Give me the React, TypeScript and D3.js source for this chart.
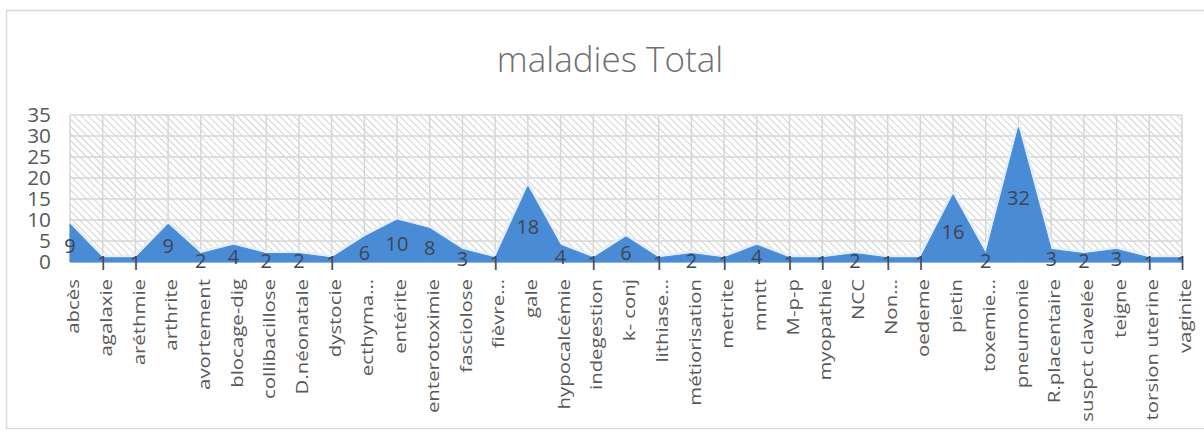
import React from "react";
import * as d3 from "d3";

// Disease counts per category
const categories: string[] = [
  "abcès", "agalaxie", "aréthmie", "arthrite", "avortement", "blocage-dig",
  "collibacillose", "D.néonatale", "dystocie", "ecthyma…", "entérite",
  "enterotoximie", "fasciolose", "fièvre…", "gale", "hypocalcémie",
  "indegestion", "k- conj", "lithiase…", "métiorisation", "metrite", "mmtt",
  "M-p-p", "myopathie", "NCC", "Non…", "oedeme", "pietin", "toxemie…",
  "pneumonie", "R.placentaire", "suspct clavelée", "teigne",
  "torsion uterine", "vaginite",
];

const totals: number[] = [
  9, 1, 1, 9, 2, 4, 2, 2, 1, 6, 10, 8, 3, 1, 18, 4, 1, 6, 1, 2, 1, 4, 1, 1,
  2, 1, 1, 16, 2, 32, 3, 2, 3, 1, 1,
];

const yTicks: number[] = [0, 5, 10, 15, 20, 25, 30, 35];

const title = "maladies Total";

const W = 1204;
const H = 438;
const plot = { left: 70, right: 1182, top: 115, bottom: 262 };
const FONT = "'Open Sans', 'Noto Sans', sans-serif";

export default function App() {
  const x = d3
    .scalePoint<string>()
    .domain(categories)
    .range([plot.left, plot.right]);
  const y = d3.scaleLinear().domain([0, 35]).range([plot.bottom, plot.top]);

  const data = categories.map((c, i) => ({ c, v: totals[i] }));

  const area = d3
    .area<{ c: string; v: number }>()
    .x((d) => x(d.c)!)
    .y0(y(0))
    .y1((d) => y(d.v));
  const topLine = d3
    .line<{ c: string; v: number }>()
    .x((d) => x(d.c)!)
    .y((d) => y(d.v));

  return (
    <svg
      width={W}
      height={H}
      style={{ position: "absolute", left: 0, top: 0, background: "#fff" }}
    >
      <defs>
        <pattern
          id="hatch"
          width={5}
          height={5}
          patternUnits="userSpaceOnUse"
          patternTransform="rotate(-45)"
        >
          <rect width={5} height={5} fill="#ffffff" />
          <line x1={0} y1={0} x2={0} y2={5} stroke="#d2d2d2" strokeWidth={2} />
        </pattern>
        <filter id="soft" x="-5%" y="-5%" width="110%" height="110%">
          <feGaussianBlur stdDeviation={0.6} />
        </filter>
      </defs>

      {/* chart frame */}
      <rect
        x={6.5}
        y={10.5}
        width={W + 10}
        height={418}
        fill="#fff"
        stroke="#d9d9d9"
        strokeWidth={1.5}
      />

      <text
        x={610}
        y={72}
        textAnchor="middle"
        fontFamily={FONT}
        fontSize={35}
        fontWeight={300}
        fill="#707070"
      >
        {title}
      </text>

      {/* plot background and grid */}
      <rect
        x={plot.left}
        y={plot.top}
        width={plot.right - plot.left}
        height={plot.bottom - plot.top}
        fill="url(#hatch)"
      />
      <g stroke="#d6d6d6" strokeWidth={1.5}>
        {yTicks.map((t) => (
          <line key={t} x1={plot.left} x2={plot.right} y1={y(t)} y2={y(t)} />
        ))}
        {categories.map((c) => (
          <line key={c} x1={x(c)} x2={x(c)} y1={plot.top} y2={plot.bottom} />
        ))}
      </g>

      {/* y axis labels */}
      <g fontFamily={FONT} fontSize={16} fill="#595959" textAnchor="end">
        {yTicks.map((t) => (
          <text
            key={t}
            transform={`translate(51,${y(t)}) scale(1.3,1.28)`}
            dy="0.36em"
          >
            {t}
          </text>
        ))}
      </g>

      {/* area series */}
      <path
        d={topLine(data)!}
        fill="none"
        stroke="#e4eefa"
        strokeWidth={6}
        strokeLinejoin="round"
        filter="url(#soft)"
      />
      <path d={area(data)!} fill="#4a8bd5" stroke="#4a8bd5" strokeWidth={1} />

      {/* data labels */}
      <g fontFamily={FONT} fontSize={20} fill="#3d4652" textAnchor="middle">
        {data.map((d) => (
          <text key={d.c} x={x(d.c)} y={y(d.v / 2) + 3} dy="0.36em">
            {d.v}
          </text>
        ))}
      </g>

      {/* category labels, stretched along their reading direction */}
      <g fontFamily={FONT} fontSize={17} fill="#595959" textAnchor="end">
        {categories.map((c) => (
          <text
            key={c}
            transform={`translate(${x(c)! + 3},${plot.bottom + 17}) rotate(-90) scale(1.2,1)`}
            dy="0.36em"
          >
            {c}
          </text>
        ))}
      </g>
    </svg>
  );
}
